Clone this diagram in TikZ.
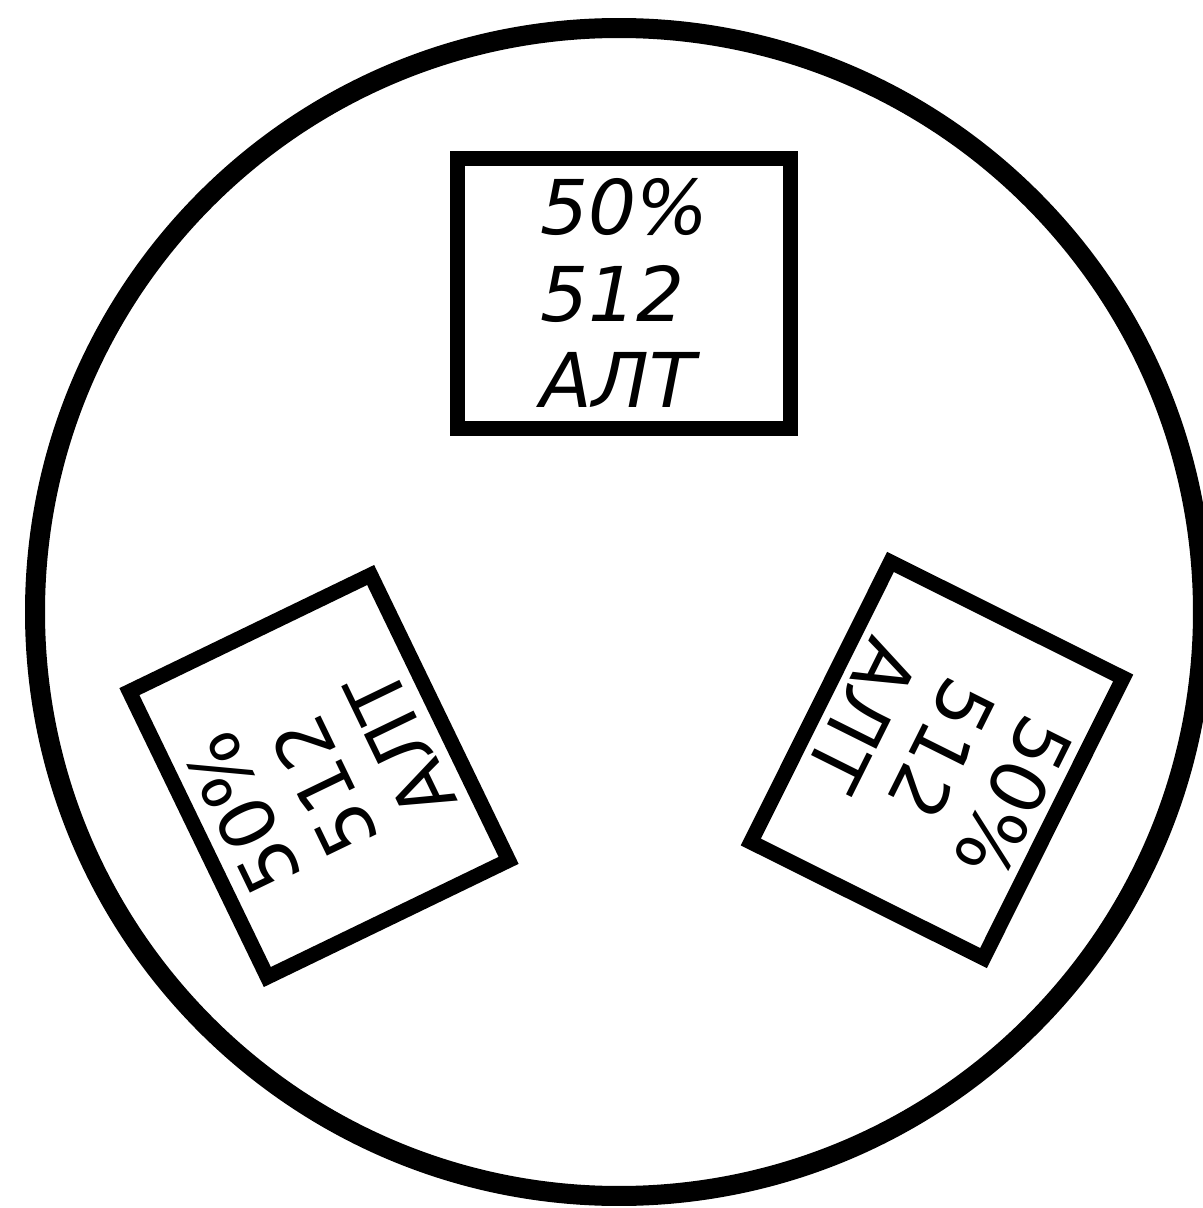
\documentclass[tikz,border=0pt]{standalone}
\usepackage{fontspec}
\usepackage{tikz}
\usepackage{xcolor}
\newfontfamily\gostfont{DejaVu Sans}

\begin{document}
\begin{tikzpicture}[
  every node/.style={font=\gostfont\fontsize{21.5}{24.5}\selectfont},
  dial/.style={draw=black, line width=0.2cm},
  tag/.style={
    draw=black,
    line width=0.15cm,
    minimum width=3.25cm,
    minimum height=2.68cm,
    inner sep=0pt,
    align=left
  }
]
  \useasboundingbox (0,0) rectangle (12.03,12.08);
  \fill[white] (0,0) rectangle (12.03,12.08);
  \draw[dial] (6.19,5.96) circle (5.84);
  \node[tag, minimum width=3.33cm, minimum height=2.70cm,
        font=\gostfont\itshape\fontsize{21.5}{24.5}\selectfont] (top) at (6.245,9.15)
    {50\%\\512\\АЛТ};
  \node[tag, rotate=115.8, minimum width=3.17cm] (left) at (3.19,4.32)
    {50\%\\512\\АЛТ};
  \node[tag, rotate=-116.5, minimum width=3.13cm, minimum height=2.60cm] (right) at (9.37,4.48)
    {50\%\\512\\АЛТ};
\end{tikzpicture}
\end{document}
